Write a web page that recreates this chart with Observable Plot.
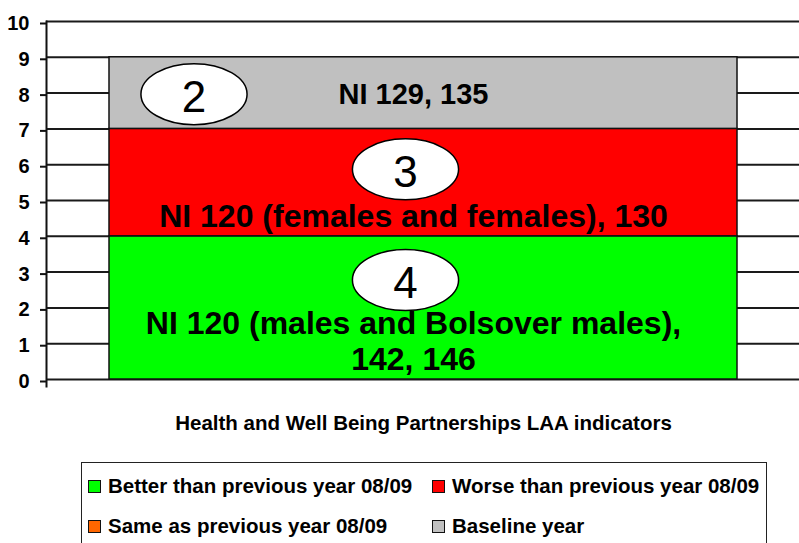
<!DOCTYPE html>
<html>
<head>
<meta charset="utf-8">
<script src="https://cdn.jsdelivr.net/npm/d3@7"></script>
<script src="https://cdn.jsdelivr.net/npm/@observablehq/plot@0.6"></script>
<style>
  html, body { margin: 0; padding: 0; background: #fff; }
  #wrap { position: relative; width: 799px; height: 543px; overflow: hidden; }
  #legend {
    position: absolute; left: 81px; top: 462px; width: 686px; height: 100px;
    border: 1.5px solid #222; box-sizing: border-box; background: #fff;
    font-family: "Liberation Sans", Arial, sans-serif;
    font-weight: bold; font-size: 20.5px; color: #000;
  }
  .item { position: absolute; display: flex; align-items: center; height: 24px; white-space: nowrap; }
  .sw { width: 11px; height: 11px; border: 1px solid #111; margin-right: 7px; flex: none; }
</style>
</head>
<body>
<div id="wrap"></div>
<script>
// ---- data ----
const category = "Health and Well Being Partnerships LAA indicators";
const statuses = [
  "Better than previous year 08/09",
  "Worse than previous year 08/09",
  "Same as previous year 08/09",
  "Baseline year"
];
const counts = [4, 3, 0, 2];
const colors = ["#00FF00", "#FF0000", "#FF6600", "#C0C0C0"];
const indicatorLabels = [
  "NI 120 (males and Bolsover males),\n142, 146",
  "NI 120 (females and females), 130",
  "",
  "NI 129, 135"
];
const yTicks = [0, 1, 2, 3, 4, 5, 6, 7, 8, 9, 10];

// ---- layout of the free-floating annotations (y in data units, dx in px) ----
const labelPlacement = [
  {y: 1.1, dx: -10, size: 32},
  {y: 4.58, dx: -10, size: 32},
  null,
  {y: 8.0, dx: -10, size: 29}
];
const ovalPlacement = [
  {y: 2.78, dx: -18},
  {y: 5.87, dx: -18},
  null,
  {y: 7.97, dx: -229.5}
];

const rows = statuses.map((s, i) => ({cat: category, status: s, value: counts[i]}));
const labels = statuses.map((s, i) => labelPlacement[i] && ({cat: category, text: indicatorLabels[i], ...labelPlacement[i]})).filter(Boolean);
const ovals = statuses.map((s, i) => ovalPlacement[i] && ({cat: category, n: counts[i], ...ovalPlacement[i]})).filter(Boolean);

// ellipse symbol (drawn via d3-path interface)
const ellipse = {
  draw(ctx, size) {
    const ry = Math.sqrt(size / Math.PI), rx = ry * 1.74, k = 0.5523;
    ctx.moveTo(rx, 0);
    ctx.bezierCurveTo(rx, ry * k, rx * k, ry, 0, ry);
    ctx.bezierCurveTo(-rx * k, ry, -rx, ry * k, -rx, 0);
    ctx.bezierCurveTo(-rx, -ry * k, -rx * k, -ry, 0, -ry);
    ctx.bezierCurveTo(rx * k, -ry, rx, -ry * k, rx, 0);
    ctx.closePath();
  }
};

const arial = '"Liberation Sans", Arial, sans-serif';

const marks = [
  Plot.gridY(yTicks, {stroke: "#1a1a1a", strokeOpacity: 1, strokeWidth: 2}),
  Plot.barY(rows.filter(d => d.value > 0), {x: "cat", y: "value", fill: "status", stroke: "#111", strokeWidth: 1.5}),
  Plot.frame({anchor: "left", stroke: "#111", strokeWidth: 2, insetBottom: -7}),
  Plot.axisY(yTicks, {tickSize: 6, tickPadding: 11, strokeWidth: 2, stroke: "#111", fontSize: 20, fontWeight: "bold", fontFamily: arial, fill: "#000", dy: 2, label: null}),
  Plot.axisX({tickSize: 0, tickPadding: 36, fontSize: 20.5, fontWeight: "bold", fontFamily: arial, fill: "#000", label: null}),
  ...ovals.map(o => Plot.dot([o], {x: "cat", y: "y", dx: o.dx, r: 30.5, symbol: ellipse, fill: "#fff", stroke: "#000", strokeWidth: 1.5})),
  ...ovals.map(o => Plot.text([o], {x: "cat", y: "y", text: "n", dx: o.dx, dy: 4, fontSize: 44, fontFamily: arial, fill: "#000"})),
  ...labels.map(l => Plot.text([l], {x: "cat", y: "y", text: "text", dx: l.dx, fontSize: l.size, fontWeight: "bold", fontFamily: arial, fill: "#000", lineHeight: 1.13}))
];

const chart = Plot.plot({
  width: 799,
  height: 450,
  marginLeft: 46,
  marginRight: 0,
  marginTop: 21,
  marginBottom: 71,
  style: {background: "#fff", overflow: "visible", fontFamily: arial},
  x: {domain: [category], padding: 0.09, axis: null},
  y: {domain: [0, 10], axis: null},
  color: {domain: statuses, range: colors},
  marks
});
const wrap = document.getElementById("wrap");
wrap.appendChild(chart);

// legend (HTML, below the chart)
const legend = document.createElement("div");
legend.id = "legend";
const legendPos = [[6, 11], [350, 11], [6, 51], [350, 51]];
statuses.forEach((s, i) => {
  const it = document.createElement("div");
  it.className = "item";
  it.style.left = legendPos[i][0] + "px";
  it.style.top = legendPos[i][1] + "px";
  const sw = document.createElement("span");
  sw.className = "sw";
  sw.style.background = colors[i];
  const t = document.createElement("span");
  t.textContent = s;
  it.appendChild(sw);
  it.appendChild(t);
  legend.appendChild(it);
});
wrap.appendChild(legend);
</script>
</body>
</html>
